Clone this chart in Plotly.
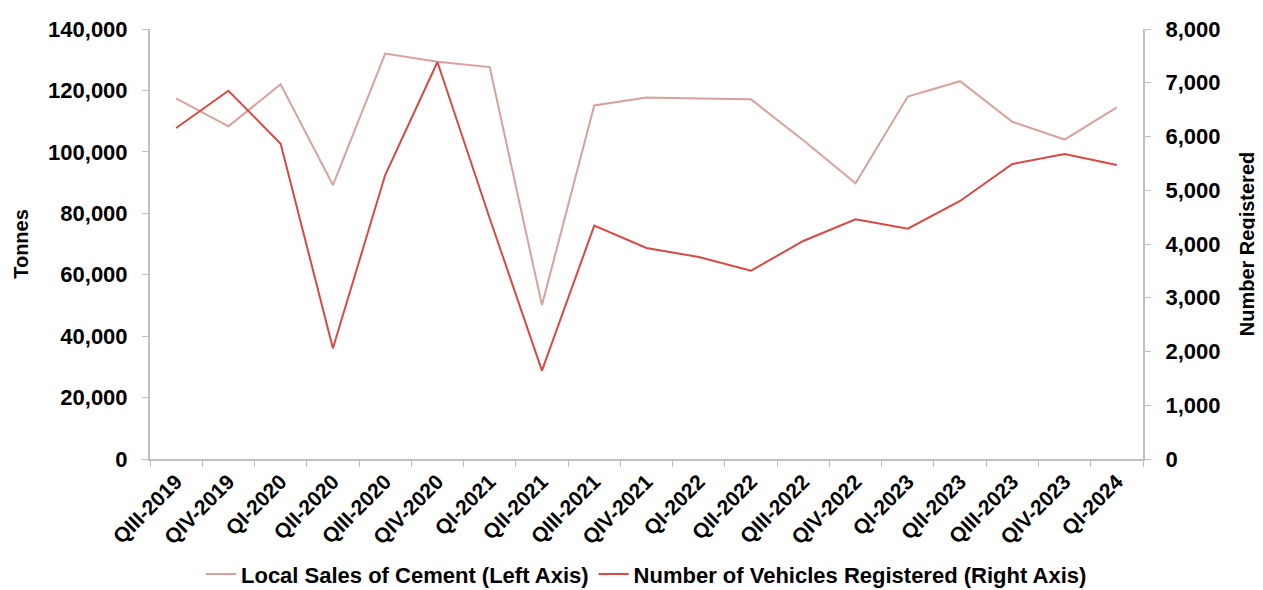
import plotly.graph_objects as go

quarters = ["QIII-2019", "QIV-2019", "QI-2020", "QII-2020", "QIII-2020", "QIV-2020",
            "QI-2021", "QII-2021", "QIII-2021", "QIV-2021", "QI-2022", "QII-2022",
            "QIII-2022", "QIV-2022", "QI-2023", "QII-2023", "QIII-2023", "QIV-2023", "QI-2024"]

cement_tonnes = [117400, 108300, 122000, 89200, 132000, 129300, 127600, 50100, 115100,
                 117700, 117400, 117100, 103800, 89800, 118000, 123000, 109800, 104000, 114500]

vehicles_registered = [6158, 6852, 5866, 2060, 5284, 7386, 4480, 1643, 4341,
                       3926, 3758, 3504, 4056, 4459, 4285, 4800, 5488, 5674, 5470]

FONT = "Liberation Sans, Arial, sans-serif"
AXIS_COLOR = "#BFBFBF"

def bfont(size):
    return dict(family=FONT, size=size, color="#000000", weight="bold")

fig = go.Figure()
fig.add_trace(go.Scatter(
    x=quarters, y=cement_tonnes, mode="lines",
    name="Local Sales of Cement (Left Axis)",
    line=dict(color="#D9A19C", width=2),
    yaxis="y",
))
fig.add_trace(go.Scatter(
    x=quarters, y=vehicles_registered, mode="lines",
    name="Number of Vehicles Registered (Right Axis)",
    line=dict(color="#D64A43", width=2),
    yaxis="y2",
))

fig.update_layout(
    width=1255, height=582,
    autosize=False,
    paper_bgcolor="white", plot_bgcolor="white",
    margin=dict(l=142, r=120, t=21, b=131, autoexpand=False),
    font=bfont(20),
    showlegend=True,
    legend=dict(
        orientation="h", x=0.5, xanchor="center", y=-0.268, yanchor="middle",
        font=bfont(22),
        itemwidth=30, tracegroupgap=0,
    ),
    xaxis=dict(
        type="category", range=[-0.5, 18.5], automargin=False,
        showline=True, linecolor=AXIS_COLOR, linewidth=2,
        ticks="outside", tickson="boundaries", ticklen=6, tickcolor=AXIS_COLOR, tickwidth=1,
        tickangle=-45, tickfont=bfont(21),
        showgrid=False, zeroline=False,
    ),
    yaxis=dict(
        range=[0, 140000], dtick=20000, tickformat=",d", automargin=False,
        showline=True, linecolor=AXIS_COLOR, linewidth=2,
        ticks="outside", ticklen=6, tickcolor=AXIS_COLOR, tickwidth=1,
        ticklabelstandoff=10,
        tickfont=bfont(22), showgrid=False, zeroline=False,
        title=dict(text="Tonnes", font=bfont(20), standoff=14),
    ),
    yaxis2=dict(
        range=[0, 8000], dtick=1000, tickformat=",d", automargin=False,
        overlaying="y", side="right",
        showline=True, linecolor=AXIS_COLOR, linewidth=2,
        ticks="outside", ticklen=6, tickcolor=AXIS_COLOR, tickwidth=1,
        ticklabelstandoff=10,
        tickfont=bfont(22), showgrid=False, zeroline=False,
        title=dict(text="Number Registered", font=bfont(20), standoff=21),
    ),
)

fig.write_html("out.html")
